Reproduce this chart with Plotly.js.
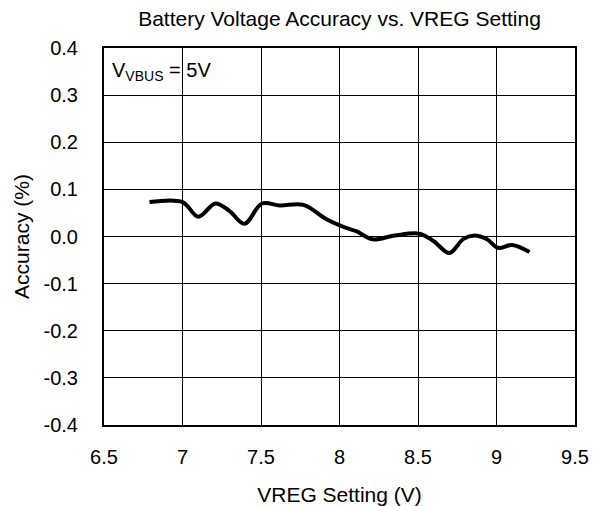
<!DOCTYPE html>
<html><head><meta charset="utf-8">
<script src="https://cdn.plot.ly/plotly-3.0.1.min.js"></script>
<style>body{margin:0;padding:0;background:#fff}#chart{width:600px;height:506px}</style>
</head><body><div id="chart"></div>
<script>
var vreg = [6.79, 7.00, 7.10, 7.21, 7.30, 7.395, 7.506, 7.62, 7.77, 7.92, 8.06, 8.11, 8.21, 8.35, 8.51, 8.60, 8.70, 8.79, 8.86, 8.94, 9.01, 9.10, 9.21];
var accuracy = [0.073, 0.073, 0.042, 0.070, 0.054, 0.027, 0.070, 0.066, 0.067, 0.036, 0.016, 0.011, -0.006, 0.002, 0.006, -0.010, -0.035, -0.005, 0.002, -0.006, -0.024, -0.018, -0.033];
var xTickVals = [6.5, 7, 7.5, 8, 8.5, 9, 9.5];
var xTickText = ["6.5", "7", "7.5", "8", "8.5", "9", "9.5"];
var yTickVals = [0.4, 0.3, 0.2, 0.1, 0.0, -0.1, -0.2, -0.3, -0.4];
var yTickText = ["0.4", "0.3", "0.2", "0.1", "0.0", "-0.1", "-0.2", "-0.3", "-0.4"];

var font = "Liberation Sans, Arial, sans-serif";
var trace = {
  x: vreg, y: accuracy, type: "scatter", mode: "lines",
  line: {color: "#000", width: 4, shape: "spline", smoothing: 1},
  hoverinfo: "skip"
};
var layout = {
  width: 600, height: 506,
  margin: {l: 104, r: 25, t: 48, b: 81},
  paper_bgcolor: "#fff", plot_bgcolor: "#fff",
  showlegend: false,
  font: {family: font, color: "#000", size: 20},
  title: {text: "Battery Voltage Accuracy vs. VREG Setting", font: {family: font, size: 21, color: "#000"}, xref: "paper", x: 0.5, xanchor: "center", y: 0.963, yanchor: "middle"},
  xaxis: {
    range: [6.5, 9.5], tickvals: xTickVals, ticktext: xTickText,
    showgrid: true, gridcolor: "#000", gridwidth: 1,
    showline: true, linecolor: "#000", linewidth: 2, mirror: true,
    zeroline: false, ticks: "outside", ticklen: 13, tickcolor: "rgba(0,0,0,0)",
    tickfont: {family: font, size: 20, color: "#000"},
    title: {text: "VREG Setting (V)", font: {family: font, size: 21, color: "#000"}, standoff: 22}
  },
  yaxis: {
    range: [-0.4, 0.4], tickvals: yTickVals, ticktext: yTickText,
    showgrid: true, gridcolor: "#000", gridwidth: 1,
    showline: true, linecolor: "#000", linewidth: 2, mirror: true,
    zeroline: false, ticks: "outside", ticklen: 20, tickcolor: "rgba(0,0,0,0)",
    tickfont: {family: font, size: 20, color: "#000"},
    title: {text: "Accuracy (%)", font: {family: font, size: 21, color: "#000"}, standoff: 8}
  },
  annotations: [{
    xref: "paper", yref: "paper", x: 0.012, y: 0.975, xanchor: "left", yanchor: "top",
    text: "V<sub>VBUS</sub> = 5V", showarrow: false,
    font: {family: font, size: 20, color: "#000"}
  }]
};
Plotly.newPlot("chart", [trace], layout, {displayModeBar: false, staticPlot: true});
</script></body></html>
